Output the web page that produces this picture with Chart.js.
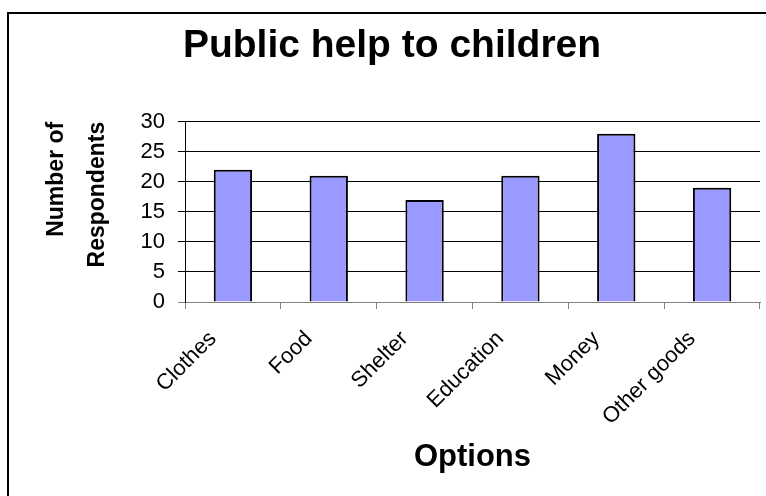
<!DOCTYPE html>
<html>
<head>
<meta charset="utf-8">
<title>Public help to children</title>
<script src="https://cdn.jsdelivr.net/npm/chart.js@4.4.1/dist/chart.umd.min.js"></script>
<style>
  html, body { margin: 0; padding: 0; background: #fff; }
  canvas { display: block; }
</style>
</head>
<body>
<canvas id="helpChart" width="766" height="496"></canvas>
<script>
// chart data
const categories = ['Clothes', 'Food', 'Shelter', 'Education', 'Money', 'Other goods'];
const respondents = [22, 21, 17, 21, 28, 19];
const yTicks = [0, 5, 10, 15, 20, 25, 30];

const chartTitle = 'Public help to children';
const xTitle = 'Options';
const yTitle = ['Number of', 'Respondents'];

const fontFamily = "'Liberation Sans', Arial, sans-serif";

// white background + the black frame (only top and left edges show)
const framePlugin = {
  id: 'frame',
  beforeDraw(chart) {
    const c = chart.ctx;
    c.save();
    c.fillStyle = '#fff';
    c.fillRect(0, 0, chart.width, chart.height);
    c.strokeStyle = '#000';
    c.lineWidth = 2;
    c.beginPath();
    c.moveTo(8, chart.height);
    c.lineTo(8, 13);
    c.lineTo(chart.width, 13);
    c.stroke();
    c.restore();
  }
};

const ctx = document.getElementById('helpChart').getContext('2d');

new Chart(ctx, {
  type: 'bar',
  data: {
    labels: categories,
    datasets: [{
      label: 'Respondents',
      data: respondents,
      backgroundColor: '#9999ff',
      borderColor: '#000',
      borderWidth: 2,
      categoryPercentage: 1,
      barPercentage: 0.4
    }]
  },
  plugins: [framePlugin],
  options: {
    responsive: false,
    animation: false,
    layout: { padding: { left: 24, right: 6, top: 0, bottom: 0 } },
    plugins: {
      legend: { display: false },
      tooltip: { enabled: false },
      title: {
        display: true,
        text: chartTitle,
        color: '#000',
        font: { family: fontFamily, size: 39, weight: 'bold', lineHeight: 1.2 },
        padding: { top: 23, bottom: 52 }
      }
    },
    scales: {
      x: {
        grid: {
          drawOnChartArea: false,
          drawTicks: true,
          tickLength: 7,
          color: '#808080'
        },
        border: { color: '#808080', width: 1 },
        ticks: {
          color: '#000',
          font: { family: fontFamily, size: 22 },
          minRotation: 45,
          maxRotation: 45,
          autoSkip: false,
          padding: 17,
          labelOffset: -20
        },
        title: {
          display: true,
          text: xTitle,
          color: '#000',
          font: { family: fontFamily, size: 31, weight: 'bold', lineHeight: 1.2 },
          padding: { top: 0, bottom: 20 }
        },
        afterFit(scale) { scale.height = 194; }
      },
      y: {
        min: 0,
        max: 30,
        afterBuildTicks(scale) { scale.ticks = yTicks.map(v => ({ value: v })); },
        grid: {
          color: (c) => c.index === 0 ? '#808080' : '#000',
          tickLength: 7
        },
        border: { color: '#000', width: 1 },
        ticks: {
          color: '#000',
          font: { family: fontFamily, size: 22 },
          padding: 13
        },
        title: {
          display: true,
          text: yTitle,
          align: 'end',
          color: '#000',
          font: { family: fontFamily, size: 23, weight: 'bold', lineHeight: '41px' },
          padding: { top: 12, bottom: 0 }
        },
        afterFit(scale) { scale.width = 161; }
      }
    }
  }
});
</script>
</body>
</html>
